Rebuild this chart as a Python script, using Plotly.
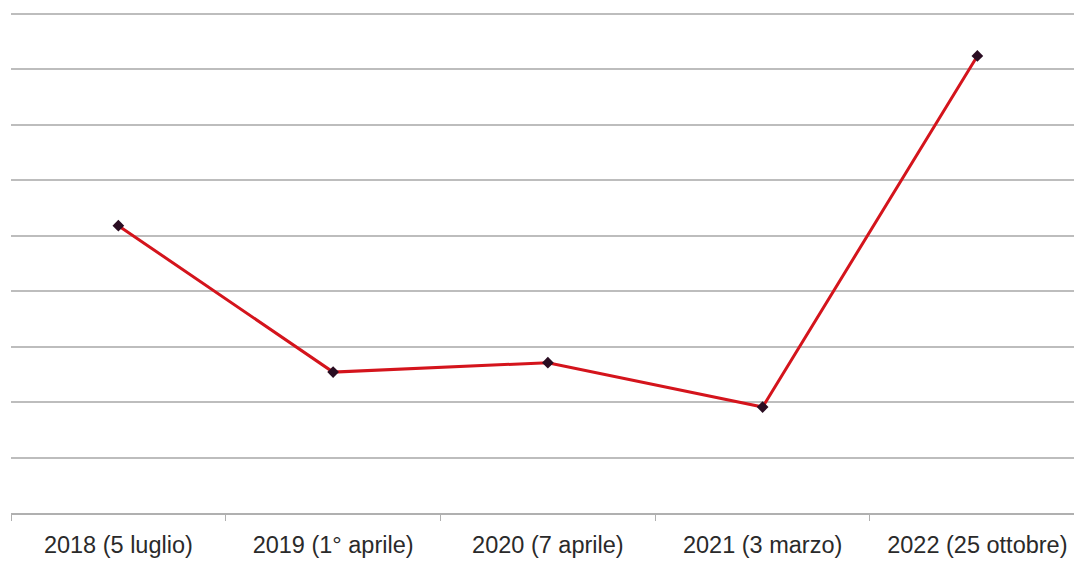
import plotly.graph_objects as go

categories = ["2018 (5 luglio)", "2019 (1° aprile)", "2020 (7 aprile)", "2021 (3 marzo)", "2022 (25 ottobre)"]
values = [5.18, 2.54, 2.71, 1.91, 8.24]

fig = go.Figure()
fig.add_trace(go.Scatter(
    x=categories, y=values, mode="lines+markers",
    line=dict(color="#d4141c", width=3),
    marker=dict(symbol="diamond", size=9, color="#2a0d22"),
    showlegend=False,
))

fig.update_layout(
    width=1074, height=561,
    margin=dict(l=11, r=0, t=11, b=48),
    paper_bgcolor="white", plot_bgcolor="white",
    font=dict(family="Liberation Sans, Arial, sans-serif", size=23.5, color="#2a2a2a"),
)
fig.update_xaxes(
    type="category", range=[-0.5, 4.45], automargin=False,
    showgrid=False, showline=True, linecolor="#b0b0b0", linewidth=1.5,
    ticks="outside", tickson="boundaries", ticklen=6, tickcolor="#b0b0b0",
    ticklabelstandoff=10, zeroline=False,
)
fig.update_yaxes(
    range=[0, 9.05], dtick=1, showticklabels=False, ticks="", automargin=False,
    showgrid=True, gridcolor="#bdbdbd", gridwidth=1.5, zeroline=False,
    showline=False,
)

fig.write_html(
    "out.html",
    config={"displayModeBar": False},
    post_script="document.body.style.margin='0';document.body.style.overflow='hidden';",
)
